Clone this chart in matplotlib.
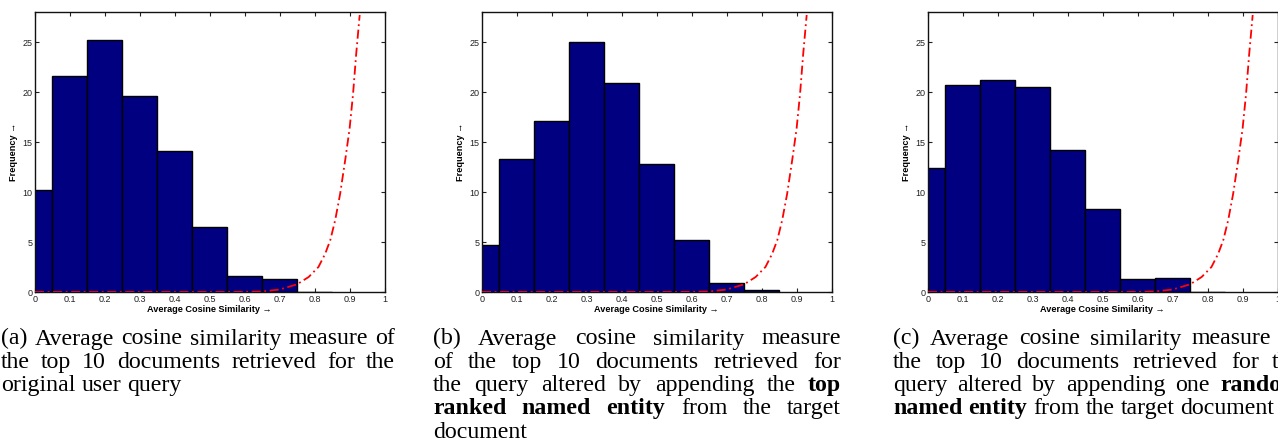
import matplotlib
matplotlib.use("Agg")
import matplotlib.pyplot as plt
import numpy as np

# ── Data ───────────────────────────────────────────────────────────────────
bin_centers = [0.0, 0.1, 0.2, 0.3, 0.4, 0.5, 0.6, 0.7, 0.8]
freq_a = [10.2, 21.6, 25.2, 19.6, 14.1, 6.55, 1.65, 1.3, 0.0]
freq_b = [4.7, 13.3, 17.1, 25.0, 20.9, 12.8, 5.25, 0.9, 0.25]
freq_c = [12.45, 20.7, 21.2, 20.5, 14.2, 8.3, 1.3, 1.45, 0.0]

# red dash-dot reference curve (same in all three panels)
curve_x = [0.0, 0.55, 0.60, 0.65, 0.70, 0.75, 0.783, 0.811, 0.83, 0.845,
           0.859, 0.873, 0.888, 0.90, 0.91, 0.919, 0.929]
curve_y = [0.0, 0.0, 0.01, 0.05, 0.25, 0.77, 1.5, 2.5, 3.8, 5.2,
           7.2, 9.8, 13.3, 16.3, 19.8, 23.8, 27.7]

x_ticks = [0, 0.1, 0.2, 0.3, 0.4, 0.5, 0.6, 0.7, 0.8, 0.9, 1]
x_ticklabels = ["0", "0.1", "0.2", "0.3", "0.4", "0.5", "0.6", "0.7", "0.8", "0.9", "1"]
y_ticks = [0, 5, 10, 15, 20, 25]

captions = {
    "a": [[("(a)", False), ("Average", False), ("cosine", False), ("similarity", False),
           ("measure", False), ("of", False)],
          [("the", False), ("top", False), ("10", False), ("documents", False),
           ("retrieved", False), ("for", False), ("the", False)],
          [("original", False), ("user", False), ("query", False)]],
    "b": [[("(b)", False), ("Average", False), ("cosine", False), ("similarity", False),
           ("measure", False)],
          [("of", False), ("the", False), ("top", False), ("10", False),
           ("documents", False), ("retrieved", False), ("for", False)],
          [("the", False), ("query", False), ("altered", False), ("by", False),
           ("appending", False), ("the", False), ("top", True)],
          [("ranked", True), ("named", True), ("entity", True), ("from", False),
           ("the", False), ("target", False)],
          [("document", False)]],
    "c": [[("(c)", False), ("Average", False), ("cosine", False), ("similarity", False),
           ("measure", False), ("of", False)],
          [("the", False), ("top", False), ("10", False), ("documents", False),
           ("retrieved", False), ("for", False), ("the", False)],
          [("query", False), ("altered", False), ("by", False), ("appending", False),
           ("one", False), ("random", True)],
          [("named", True), ("entity", True), ("from", False), ("the", False),
           ("target", False), ("document", False)]],
}

# ── Style ──────────────────────────────────────────────────────────────────
W, H = 1278, 441
BAR = "#000080"
RED = "#ff0000"
SANS = ["Liberation Sans", "DejaVu Sans"]
SERIF = ["Liberation Serif", "DejaVu Serif"]
CAP_SIZE = 17.2
LINE_H = 23.3

# panel boxes in pixels: axes left; caption left/right
panels = [
    (freq_a, 35, "a", 1, 395),
    (freq_b, 482, "b", 433, 841),
    (freq_c, 928, "c", 893, 1301),
]
AX_TOP, AX_BOT, AX_W = 12, 292, 349.5

fig = plt.figure(figsize=(W / 100, H / 100), dpi=100)
fig.patch.set_facecolor("white")

for freq, left, key, cap_l, cap_r in panels:
    ax = fig.add_axes([left / W, (H - AX_BOT) / H, AX_W / W, (AX_BOT - AX_TOP) / H])
    ax.bar(bin_centers, freq, width=0.1, color=BAR, edgecolor="black",
           linewidth=1.0, zorder=2)
    ax.plot(curve_x, curve_y, color=RED, linewidth=1.3,
            linestyle=(0, (5, 2, 1, 2)), zorder=3)
    ax.set_xlim(0, 1)
    ax.set_ylim(0, 28)
    ax.set_xticks(x_ticks)
    ax.set_xticklabels(x_ticklabels)
    ax.set_yticks(y_ticks)
    ax.tick_params(direction="in", length=3, width=0.8, top=True, right=True,
                   labelsize=6.5, pad=2, colors="#222222")
    for lab in ax.get_xticklabels() + ax.get_yticklabels():
        lab.set_family(SANS)
    for s in ax.spines.values():
        s.set_linewidth(1.0)
        s.set_color("#111111")
    ax.set_xlabel("Average Cosine Similarity \u2192", fontsize=6.6, fontweight="bold",
                  family=SANS, labelpad=1.0)
    ax.set_ylabel("Frequency \u2192", fontsize=6.6, fontweight="bold",
                  family=SANS, labelpad=3)

# ── Captions (justified, Times-like) ───────────────────────────────────────
r = fig.canvas.get_renderer()


def width_of(txt, bold):
    t = fig.text(0, 0, txt, fontsize=CAP_SIZE, family=SERIF,
                 weight="bold" if bold else "normal")
    w = t.get_window_extent(r).width
    t.remove()
    return w


space_w = width_of("a a", False) - width_of("aa", False)

for freq, left, key, cap_l, cap_r in panels:
    lines = captions[key]
    for i, words in enumerate(lines):
        base = 344.5 + i * LINE_H
        widths = [width_of(w, b) for w, b in words]
        last = i == len(lines) - 1
        if last or len(words) == 1:
            gap = space_w
        else:
            gap = (cap_r - cap_l - sum(widths)) / (len(words) - 1)
        x = cap_l
        for (w, b), wd in zip(words, widths):
            fig.text(x / W, 1 - base / H, w, fontsize=CAP_SIZE, family=SERIF,
                     weight="bold" if b else "normal", va="baseline", ha="left")
            x += wd + gap

fig.savefig("out.png", dpi=100, facecolor="white")
